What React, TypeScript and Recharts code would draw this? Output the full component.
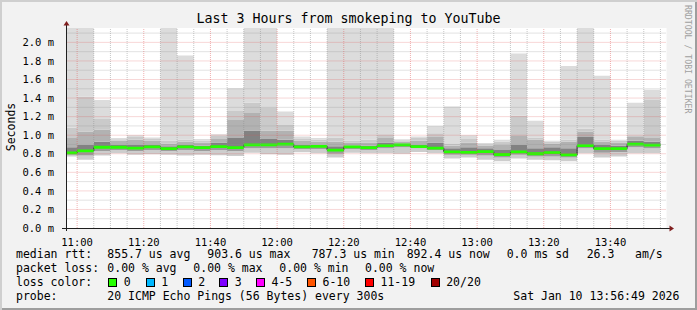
import { ComposedChart, Area, XAxis, YAxis, ReferenceLine, CartesianGrid } from 'recharts';

// 5-minute slots (slot start); 300s step, 20 pings per slot
const slots = ['10:55', '11:00', '11:05', '11:10', '11:15', '11:20', '11:25', '11:30', '11:35', '11:40', '11:45', '11:50', '11:55', '12:00', '12:05', '12:10', '12:15', '12:20', '12:25', '12:30', '12:35', '12:40', '12:45', '12:50', '12:55', '13:00', '13:05', '13:10', '13:15', '13:20', '13:25', '13:30', '13:35', '13:40', '13:45', '13:50'];

// all values in ms
const medianMs = [0.81, 0.83, 0.87, 0.87, 0.86, 0.875, 0.856, 0.875, 0.867, 0.877, 0.867, 0.895, 0.895, 0.903, 0.874, 0.88, 0.838, 0.874, 0.867, 0.888, 0.895, 0.877, 0.86, 0.82, 0.815, 0.823, 0.792, 0.82, 0.8, 0.813, 0.787, 0.888, 0.856, 0.856, 0.903, 0.892];
const minMs = [0.77, 0.735, 0.78, 0.805, 0.79, 0.795, 0.79, 0.78, 0.79, 0.785, 0.775, 0.81, 0.795, 0.79, 0.815, 0.806, 0.76, 0.81, 0.806, 0.806, 0.8, 0.82, 0.806, 0.75, 0.76, 0.735, 0.72, 0.75, 0.735, 0.73, 0.72, 0.806, 0.76, 0.77, 0.806, 0.806];
const lowMs = [0.79, 0.78, 0.83, 0.84, 0.83, 0.84, 0.83, 0.84, 0.83, 0.84, 0.83, 0.86, 0.86, 0.86, 0.85, 0.85, 0.8, 0.85, 0.84, 0.86, 0.87, 0.86, 0.84, 0.79, 0.79, 0.78, 0.76, 0.79, 0.77, 0.77, 0.76, 0.86, 0.81, 0.82, 0.87, 0.86];
const upper1Ms = [0.87, 0.9, 0.93, 0.9, 0.9, 0.9, 0.88, 0.9, 0.89, 0.92, 0.97, 1.05, 0.96, 0.95, 0.9, 0.9, 0.88, 0.89, 0.89, 0.92, 0.91, 0.9, 0.92, 0.86, 0.87, 0.86, 0.84, 0.9, 0.86, 0.87, 0.86, 0.98, 0.9, 0.89, 0.94, 0.93];
const upper2Ms = [0.97, 1.04, 1.06, 0.94, 0.95, 0.94, 0.91, 0.93, 0.92, 0.96, 1.165, 1.24, 1.05, 1.05, 0.94, 0.93, 0.93, 0.92, 0.92, 0.97, 0.93, 0.94, 0.98, 0.89, 0.92, 0.89, 0.9, 1.0, 0.95, 0.91, 0.93, 1.04, 0.93, 0.92, 0.98, 0.97];
const upper3Ms = [1.08, 1.415, 1.175, 0.955, 0.98, 0.96, 0.94, 0.95, 0.94, 0.99, 1.26, 1.35, 1.3, 1.11, 0.96, 0.95, 0.975, 0.94, 0.95, 1.01, 0.945, 0.97, 1.02, 0.905, 0.96, 0.9, 0.93, 1.21, 0.975, 0.93, 0.95, 1.07, 0.95, 0.94, 1.0, 1.38];
// 2.4 = runs off the top of the graph
const maxMs = [2.4, 2.4, 1.38, 0.97, 1.0, 0.975, 2.4, 1.86, 0.96, 1.01, 1.505, 2.4, 2.4, 1.255, 0.985, 0.97, 2.4, 2.4, 2.4, 2.4, 0.955, 0.985, 1.1, 1.31, 1.0, 0.915, 0.95, 1.88, 1.155, 0.94, 1.745, 2.4, 1.64, 0.95, 1.35, 1.49];

const xTicks = ['11:00', '11:20', '11:40', '12:00', '12:20', '12:40', '13:00', '13:20', '13:40'];
const yTicks = [0, 0.2, 0.4, 0.6, 0.8, 1.0, 1.2, 1.4, 1.6, 1.8, 2.0];

const statsRtt = ['855.7 us avg', '903.6 us max', '787.3 us min', '892.4 us now', '0.0 ms sd', '26.3', 'am/s'];
const statsLoss = ['0.00 % avg', '0.00 % max', '0.00 % min', '0.00 % now'];
const lossLabels = ['0', '1', '2', '3', '4-5', '6-10', '11-19', '20/20'];
const lossColors = ['#26ff00', '#00b8ff', '#0059ff', '#7e00ff', '#ff00ff', '#ff5500', '#ff0000', '#a10000'];

const toMin = (s: string) => {
  const [h, m] = s.split(':').map(Number);
  return (h - 11) * 60 + m;
};
const fmt = (m: number) => {
  const h = 11 + Math.floor(m / 60);
  const mm = m - (h - 11) * 60;
  return `${h}:${String(mm).padStart(2, '0')}`;
};

const T0 = toMin('10:56') + 49 / 60;
const T1 = toMin('13:56') + 49 / 60;
const Y_TOP = 2.155;
const BAND = 0.03;

const rows = slots.map((s, i) => ({
  t: toMin(s),
  base: minMs[i],
  s1: lowMs[i] - minMs[i],
  s2: medianMs[i] - lowMs[i],
  s3: upper1Ms[i] - medianMs[i],
  s4: upper2Ms[i] - upper1Ms[i],
  s5: upper3Ms[i] - upper2Ms[i],
  s6: maxMs[i] - upper3Ms[i],
  med: medianMs[i],
  mLo: medianMs[i] - BAND / 2,
  mBand: BAND,
}));
rows.push({ ...rows[rows.length - 1], t: toMin('13:55') });

const minorX = [...slots.slice(1), '13:55'].map(toMin).filter((m) => m % 20 !== 0);
const majorX = xTicks.map(toMin);
const minorY = yTicks.map((v) => v + 0.1);
const majorY = yTicks.slice(1);

const smoke: [string, string][] = [
  ['s1', '#cdcdcd'],
  ['s2', '#9c9c9c'],
  ['s3', '#828282'],
  ['s4', '#b2b2b2'],
  ['s5', '#cacaca'],
  ['s6', '#dcdcdc'],
];

const mono = '"DejaVu Sans Mono", monospace';
const GRID = 'rgba(143,143,143,0.5)';
const MGRID = 'rgba(222,79,79,0.45)';

const txt = (x: number, y: number, s: string, size = 11.5) => (
  <div
    key={`${x}-${y}-${s}`}
    style={{ position: 'absolute', left: x, top: y - 7, height: 14, lineHeight: '14px', fontSize: size, fontFamily: mono, whiteSpace: 'pre', color: '#000' }}
  >
    {s}
  </div>
);

export default function App() {
  const rttX = [107.3, 207.3, 311.7, 406.7, 506.7, 586.7, 635];
  const lossX = [107.3, 193.3, 279.3, 365];
  const boxX = [108.3, 145.7, 182.7, 219.3, 256, 307, 365, 430.7];

  return (
    <div
      style={{
        position: 'fixed', left: 0, top: 0, width: 697, height: 310, background: '#f2f2f2',
        boxShadow: 'inset 2px 2px 0 #cfcfcf, inset -2px -2px 0 #9e9e9e', overflow: 'hidden',
      }}
    >
      <div style={{ position: 'absolute', left: 0, top: 0 }}>
        <ComposedChart width={697} height={250} data={rows} margin={{ top: 28, right: 30.5, bottom: 0, left: 0 }}>
          <CartesianGrid fill="#ffffff" stroke="none" horizontal={false} vertical={false} />
          <XAxis
            type="number" dataKey="t" domain={[T0, T1]} allowDataOverflow ticks={majorX} interval={0}
            tickFormatter={fmt} axisLine={false} tickLine={false} tickMargin={5} height={22}
            tick={{ fill: '#000', fontSize: 10.5, fontFamily: mono }}
          />
          <YAxis
            type="number" domain={[0, Y_TOP]} allowDataOverflow ticks={yTicks} interval={0}
            tickFormatter={(v: number) => `${v.toFixed(1)} m`} axisLine={false} tickLine={false}
            tickMargin={6.5} width={66.5} tick={{ fill: '#000', fontSize: 10.5, fontFamily: mono }}
          />
          <Area type="stepAfter" dataKey="base" stackId="smoke" fill="none" stroke="none" isAnimationActive={false} dot={false} activeDot={false} />
          {smoke.map(([k, c]) => (
            <Area key={k} type="stepAfter" dataKey={k} stackId="smoke" fill={c} fillOpacity={1} stroke="none" isAnimationActive={false} dot={false} activeDot={false} />
          ))}
          <Area type="stepAfter" dataKey="med" fill="none" stroke="#202020" strokeWidth={1} isAnimationActive={false} dot={false} activeDot={false} />
          <Area type="stepAfter" dataKey="mLo" stackId="median" fill="none" stroke="none" isAnimationActive={false} dot={false} activeDot={false} />
          <Area type="stepAfter" dataKey="mBand" stackId="median" fill={lossColors[0]} fillOpacity={1} stroke="none" isAnimationActive={false} dot={false} activeDot={false} />
          {minorY.map((v) => (
            <ReferenceLine key={`my${v}`} y={v} stroke={GRID} strokeDasharray="1 1" />
          ))}
          {minorX.map((v) => (
            <ReferenceLine key={`mx${v}`} x={v} stroke={GRID} strokeDasharray="1 1" />
          ))}
          {majorY.map((v) => (
            <ReferenceLine key={`My${v}`} y={v} stroke={MGRID} strokeDasharray="1 1" />
          ))}
          {majorX.map((v) => (
            <ReferenceLine key={`Mx${v}`} x={v} stroke={MGRID} strokeDasharray="1 1" />
          ))}
        </ComposedChart>
      </div>

      <svg width={697} height={310} style={{ position: 'absolute', left: 0, top: 0, pointerEvents: 'none' }}>
        <line x1={66.5} y1={231} x2={66.5} y2={25} stroke="#1f1f1f" strokeWidth={1} />
        <line x1={62} y1={228.5} x2={670} y2={228.5} stroke="#1f1f1f" strokeWidth={1} />
        <polygon points="63.5,25.5 69.5,25.5 66.5,21" fill="#801f1f" />
        <polygon points="669.5,225.5 669.5,231.5 674,228.5" fill="#801f1f" />
        <text x={10.5} y={127} transform="rotate(-90 10.5 127)" textAnchor="middle" dominantBaseline="central" fontFamily={mono} fontSize={11.5} fill="#000">
          Seconds
        </text>
        <text x={688} y={5} transform="rotate(90 688 5)" textAnchor="start" dominantBaseline="central" fontFamily={mono} fontSize={8.2} fill="#a0a0a0">
          RRDTOOL / TOBI OETIKER
        </text>
      </svg>

      <div style={{ position: 'absolute', left: 0, top: 10.5, width: 697, textAlign: 'center', fontSize: 13.3, lineHeight: '16px', fontFamily: mono, color: '#000' }}>
        Last 3 Hours from smokeping to YouTube
      </div>

      {txt(16, 254, 'median rtt:')}
      {statsRtt.map((s, i) => txt(rttX[i], 254, s))}
      {txt(16, 268, 'packet loss:')}
      {statsLoss.map((s, i) => txt(lossX[i], 268, s))}
      {txt(16, 282, 'loss color:')}
      {lossLabels.map((s, i) => (
        <div key={s}>
          <div style={{ position: 'absolute', left: boxX[i], top: 277.5, width: 7, height: 7, background: lossColors[i], border: '1px solid #000' }} />
          {txt(boxX[i] + 15.5, 282, s)}
        </div>
      ))}
      {txt(16, 296, 'probe:')}
      {txt(107.3, 296, '20 ICMP Echo Pings (56 Bytes) every 300s')}
      {txt(513.3, 296, 'Sat Jan 10 13:56:49 2026')}
    </div>
  );
}
